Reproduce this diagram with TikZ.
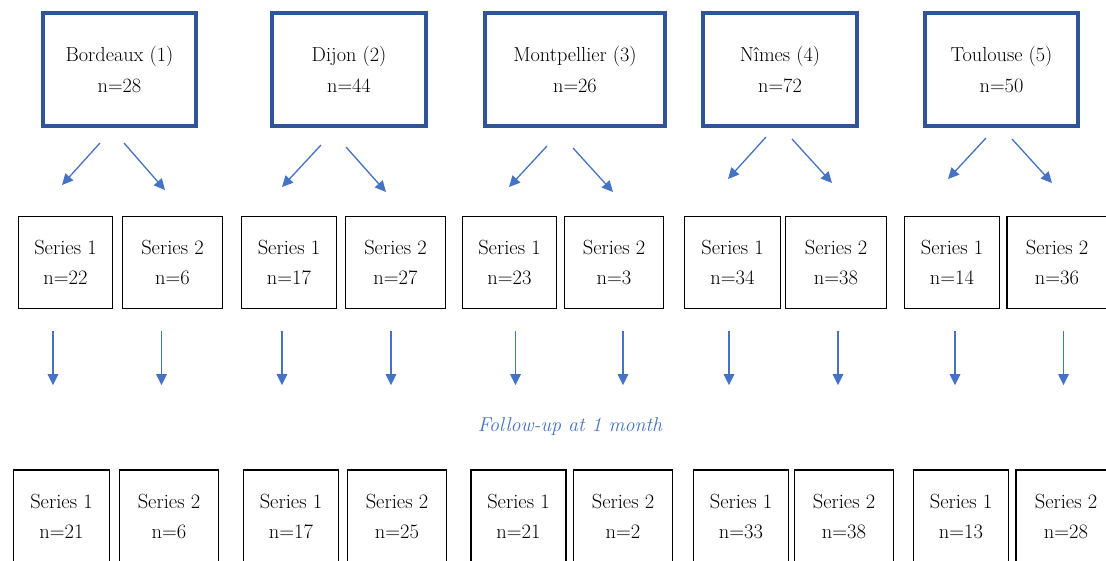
\documentclass[tikz,border=0pt]{standalone}
\usepackage{tikz}
\usetikzlibrary{arrows.meta,calc}

\definecolor{cityblue}{HTML}{2F5597}
\definecolor{arrowblue}{HTML}{4472C4}

\begin{document}
\begin{tikzpicture}[x=1pt,y=-1pt,>={Triangle[length=11pt,width=10.5pt]},
  city/.style={draw=cityblue,line width=4pt,align=center,minimum height=113,font=\fontsize{20.3}{31}\selectfont},
  series/.style={draw,line width=1.3pt,align=center,minimum height=92,font=\fontsize{20.5}{30}\selectfont},
  link/.style={->,color=arrowblue,line width=1.3pt}]

\useasboundingbox (0,0) rectangle (1106,560);

% centres
\node[city,minimum width=153](B) at (119.5,69.5) {Bordeaux (1)\\n=28};
\node[city,minimum width=154](D) at (349,69.5) {Dijon (2)\\n=44};
\node[city,minimum width=180](M) at (575,69.5) {Montpellier (3)\\n=26};
\node[city,minimum width=154](N) at (780,69.5) {Nîmes (4)\\n=72};
\node[city,minimum width=153](T) at (1001.5,69.5) {Toulouse (5)\\n=50};

% inclusion
\node[series,minimum width=94](Bs1) at (65.5,262.5) {Series 1\\n=22};
\node[series,minimum width=100](Bs2) at (172.5,262.5) {Series 2\\n=6};
\node[series,minimum width=95](Ds1) at (289,262.5) {Series 1\\n=17};
\node[series,minimum width=100](Ds2) at (395.5,262.5) {Series 2\\n=27};
\node[series,minimum width=94](Ms1) at (509.5,262.5) {Series 1\\n=23};
\node[series,minimum width=99](Ms2) at (614,262.5) {Series 2\\n=3};
\node[series,minimum width=96](Ns1) at (732.5,262.5) {Series 1\\n=34};
\node[series,minimum width=101](Ns2) at (836,262.5) {Series 2\\n=38};
\node[series,minimum width=95](Ts1) at (952,262.5) {Series 1\\n=14};
\node[series,minimum width=100](Ts2) at (1057,262.5) {Series 2\\n=36};

\node[font=\fontsize{20}{20}\selectfont\itshape,text=arrowblue](FU) at (570,426) {Follow-up at 1 month};

% follow-up
\node[series,minimum width=96](Bf1) at (61.5,516) {Series 1\\n=21};
\node[series,minimum width=99](Bf2) at (169,516) {Series 2\\n=6};
\node[series,minimum width=95](Df1) at (291,516) {Series 1\\n=17};
\node[series,minimum width=99](Df2) at (397,516) {Series 2\\n=25};
\node[series,minimum width=95](Mf1) at (518.5,516) {Series 1\\n=21};
\node[series,minimum width=99](Mf2) at (623,516) {Series 2\\n=2};
\node[series,minimum width=95](Nf1) at (741,516) {Series 1\\n=33};
\node[series,minimum width=99](Nf2) at (844,516) {Series 2\\n=38};
\node[series,minimum width=95](Tf1) at (961,516) {Series 1\\n=13};
\node[series,minimum width=100](Tf2) at (1066,516) {Series 2\\n=28};

\path
($(B.south)+(-19.5,15)$) edge[link] ($(B.south)+(-57.5,57)$)
($(B.south)+(4.5,15)$) edge[link] ($(B.south)+(45.5,62)$)
($(D.south)+(-28,17)$) edge[link] ($(D.south)+(-67,59)$)
($(D.south)+(-3,19)$) edge[link] ($(D.south)+(37,64)$)
($(M.south)+(-28,18)$) edge[link] ($(M.south)+(-66,59)$)
($(M.south)+(-2,20)$) edge[link] ($(M.south)+(38,64)$)
($(N.south)+(-14,9)$) edge[link] ($(N.south)+(-52,51)$)
($(N.south)+(12,11)$) edge[link] ($(N.south)+(52,55)$)
($(T.south)+(-15.5,10)$) edge[link] ($(T.south)+(-53.5,51)$)
($(T.south)+(10.5,11)$) edge[link] ($(T.south)+(50.5,55)$);

\path
($(Bs1.south)+(-12.5,22)$) edge[link] ($(Bs1.south)+(-12.5,76)$)
($(Bs2.south)+(-11,22)$) edge[link] ($(Bs2.south)+(-11,76)$)
($(Ds1.south)+(-7,22)$) edge[link] ($(Ds1.south)+(-7,76)$)
($(Ds2.south)+(-4.5,22)$) edge[link] ($(Ds2.south)+(-4.5,76)$)
($(Ms1.south)+(6,22)$) edge[link] ($(Ms1.south)+(6,76)$)
($(Ms2.south)+(9,22)$) edge[link] ($(Ms2.south)+(9,76)$)
($(Ns1.south)+(-3.5,22)$) edge[link] ($(Ns1.south)+(-3.5,76)$)
($(Ns2.south)+(2,22)$) edge[link] ($(Ns2.south)+(2,76)$)
($(Ts1.south)+(3,22)$) edge[link] ($(Ts1.south)+(3,76)$)
($(Ts2.south)+(6.5,22)$) edge[link] ($(Ts2.south)+(6.5,76)$);
\end{tikzpicture}
\end{document}
